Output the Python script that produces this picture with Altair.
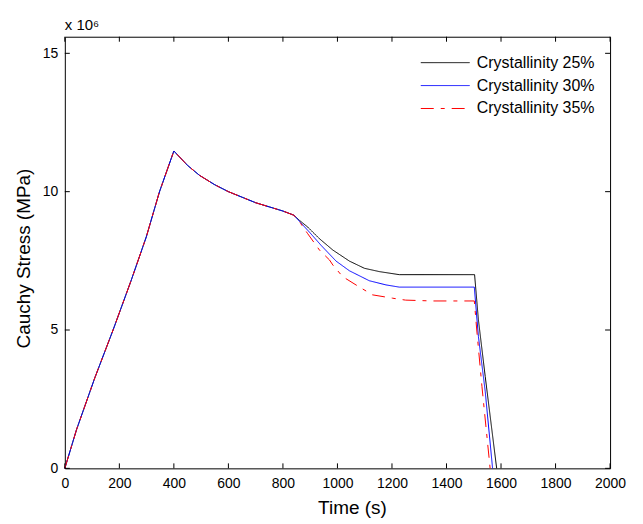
import altair as alt
import pandas as pd

# ---- tick values ----
x_ticks = [0, 200, 400, 600, 800, 1000, 1200, 1400, 1600, 1800, 2000]
y_ticks = [0, 5, 10, 15]

# ---- series ----
series_names = ["Crystallinity 25%", "Crystallinity 30%", "Crystallinity 35%"]
series_colors = ["#000000", "#0000ff", "#ff0000"]
series_dash = [[1, 0], [1, 0], [13, 7, 4, 7]]

# shared loading / relaxation part (stress in units of 1e6)
common_t = [0, 43, 110, 177, 244, 299, 347, 400, 450, 494, 550, 600, 650, 700, 750, 800, 840]
common_s = [0, 1.40, 3.27, 5.00, 6.81, 8.37, 9.99, 11.47, 10.95, 10.59, 10.25, 10.00, 9.80, 9.60, 9.45, 9.30, 9.15]

t25 = [861, 891, 934, 983, 1044, 1099, 1154, 1227, 1503, 1517, 1542, 1584]
s25 = [8.96, 8.72, 8.30, 7.89, 7.49, 7.23, 7.11, 7.00, 7.00, 5.37, 3.32, 0.0]

t30 = [865, 897, 940, 995, 1044, 1117, 1178, 1227, 1502, 1517, 1542, 1569]
s30 = [8.88, 8.54, 8.06, 7.49, 7.14, 6.78, 6.63, 6.55, 6.55, 4.77, 2.78, 0.0]

t35 = [865, 891, 934, 971, 983, 1019, 1081, 1129, 1202, 1250, 1348, 1502, 1511, 1530, 1560]
s35 = [8.85, 8.48, 7.89, 7.53, 7.35, 6.93, 6.55, 6.27, 6.15, 6.08, 6.05, 6.05, 5.00, 2.96, 0.0]

tails = [(t25, s25), (t30, s30), (t35, s35)]

rows = []
for name, (tt, ss) in zip(series_names, tails):
    for t, s in zip(common_t + tt, common_s + ss):
        rows.append({"t": t, "s": s, "series": name})
df = pd.DataFrame(rows)

FONT = "Liberation Sans"
W, H = 547, 433

X = alt.X(
    "t:Q",
    scale=alt.Scale(domain=[0, 2000], nice=False, zero=False),
    axis=alt.Axis(
        title="Time (s)", values=x_ticks, format="d", ticks=False, domain=False, grid=False,
        labelFlush=False, labelOverlap=False, labelPadding=8, titlePadding=8, titleX=288,
        labelFontSize=14, titleFontSize=19, labelFont=FONT, titleFont=FONT,
        labelColor="black", titleColor="black", titleFontWeight="normal",
    ),
)
Y = alt.Y(
    "s:Q",
    scale=alt.Scale(domain=[0, 15.6], nice=False),
    axis=alt.Axis(
        title="Cauchy Stress (MPa)", values=y_ticks, format="d", ticks=False, domain=False, grid=False,
        labelFlush=False, labelOverlap=False, labelPadding=7, titlePadding=9, titleY=222,
        labelFontSize=14, titleFontSize=19, labelFont=FONT, titleFont=FONT,
        labelColor="black", titleColor="black", titleFontWeight="normal",
    ),
)

legend = alt.Legend(
    title=None, orient="none", legendX=373.6, legendY=18,
    symbolType="M-5,0H5", symbolSize=96, symbolStrokeWidth=1,
    labelOffset=23.6, labelFontSize=16, labelFont=FONT, labelColor="black",
    rowPadding=7, padding=0,
)
color = alt.Color("series:N", scale=alt.Scale(domain=series_names, range=series_colors), legend=legend)
dash = alt.StrokeDash("series:N", scale=alt.Scale(domain=series_names, range=series_dash), legend=legend)

layers = []
for name in series_names:
    layers.append(
        alt.Chart(df)
        .transform_filter(alt.datum.series == name)
        .mark_line(strokeWidth=1)
        .encode(x=X, y=Y, color=color, strokeDash=dash)
    )

xt = pd.DataFrame({"t": x_ticks})
yt = pd.DataFrame({"s": y_ticks})
tick_bottom = alt.Chart(xt).mark_rule(color="black", strokeWidth=1).encode(x=X, y=alt.value(H), y2=alt.value(H - 5))
tick_top = alt.Chart(xt).mark_rule(color="black", strokeWidth=1).encode(x=X, y=alt.value(0), y2=alt.value(5))
tick_left = alt.Chart(yt).mark_rule(color="black", strokeWidth=1).encode(y=Y, x=alt.value(0), x2=alt.value(5))
tick_right = alt.Chart(yt).mark_rule(color="black", strokeWidth=1).encode(y=Y, x=alt.value(W), x2=alt.value(W - 5))

chart = (
    alt.layer(*layers, tick_bottom, tick_top, tick_left, tick_right)
    .properties(
        width=W, height=H,
        autosize=alt.AutoSizeParams(type="none"),
        padding={"left": 57, "top": 28, "right": 25, "bottom": 50},
        title=alt.TitleParams("x 10⁶", anchor="start", frame="group", fontSize=15, font=FONT,
                              fontWeight="normal", offset=3, color="black"),
        background="white",
    )
    .configure_view(stroke="black", strokeWidth=1)
)

chart.save("out.html", embed_options={"renderer": "svg", "actions": False})
